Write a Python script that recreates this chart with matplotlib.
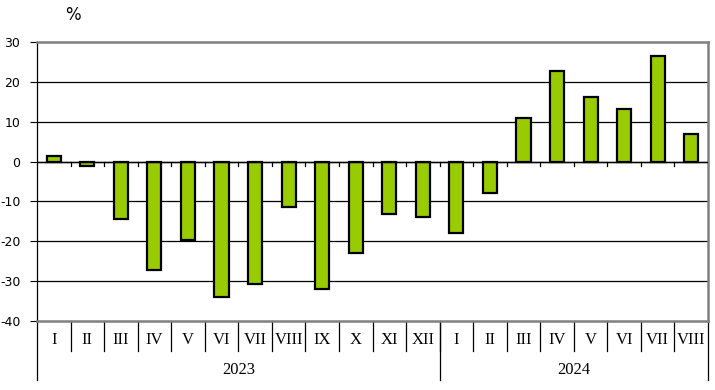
import matplotlib.pyplot as plt
import numpy as np

plt.rcParams['axes.unicode_minus'] = False

months = ['I', 'II', 'III', 'IV', 'V', 'VI', 'VII', 'VIII', 'IX', 'X', 'XI', 'XII',
          'I', 'II', 'III', 'IV', 'V', 'VI', 'VII', 'VIII']
years = ['2023', '2024']
year_counts = [12, 8]
values = [1.5, -1.0, -14.4, -27.1, -19.6, -34.1, -30.6, -11.5, -31.9, -23.0, -13.2, -14.0,
          -17.8, -7.9, 11.0, 22.6, 16.2, 13.3, 26.6, 7.0]

fig = plt.figure(figsize=(7.15, 3.9), dpi=100)
ax = fig.add_axes([37 / 715, 1 - 321 / 390, 671 / 715, 279 / 390])

x = np.arange(len(values))
ax.bar(x, values, width=0.42, color='#99CC00', edgecolor='black', linewidth=1.6, zorder=3)

ax.set_xlim(-0.5, len(values) - 0.5)
ax.set_ylim(-40, 30)
ax.set_yticks(range(-40, 31, 10))
ax.tick_params(axis='y', direction='out', length=5, width=0.8, pad=7, labelsize=9)
ax.set_xticks([])

# grid lines
for yv in range(-30, 21, 10):
    ax.axhline(yv, color='black', lw=0.9, zorder=1)
ax.axhline(0, color='black', lw=1.0, zorder=4)

for s in ['top', 'right', 'bottom']:
    ax.spines[s].set_color('#808080')
    ax.spines[s].set_linewidth(1.8)
ax.spines['left'].set_color('black')
ax.spines['left'].set_linewidth(0.9)

# small ticks on the zero line
for b in x[1:] - 0.5:
    ax.plot([b, b], [0, -1.1], color='black', lw=0.9, zorder=4)

# category axis below
tr = ax.get_xaxis_transform()
for b in list(x[1:] - 0.5):
    ax.plot([b, b], [0, -0.1075], color='black', lw=0.9, transform=tr, clip_on=False)
for i, m in enumerate(months):
    ax.text(i, -0.068, m, transform=tr, ha='center', va='center',
            fontsize=12, family='Liberation Serif')

start = -0.5
bounds = [start]
for c in year_counts:
    bounds.append(bounds[-1] + c)
for b in bounds:
    ax.plot([b, b], [0, -0.211], color='black', lw=0.9, transform=tr, clip_on=False)
for j, yr in enumerate(years):
    ax.text((bounds[j] + bounds[j + 1]) / 2, -0.176, yr, transform=tr, ha='center',
            va='center', fontsize=12, family='Liberation Serif')

fig.text(73 / 715, 1 - 15 / 390, '%', ha='center', va='center', fontsize=12)

fig.savefig('out.png', dpi=100)
